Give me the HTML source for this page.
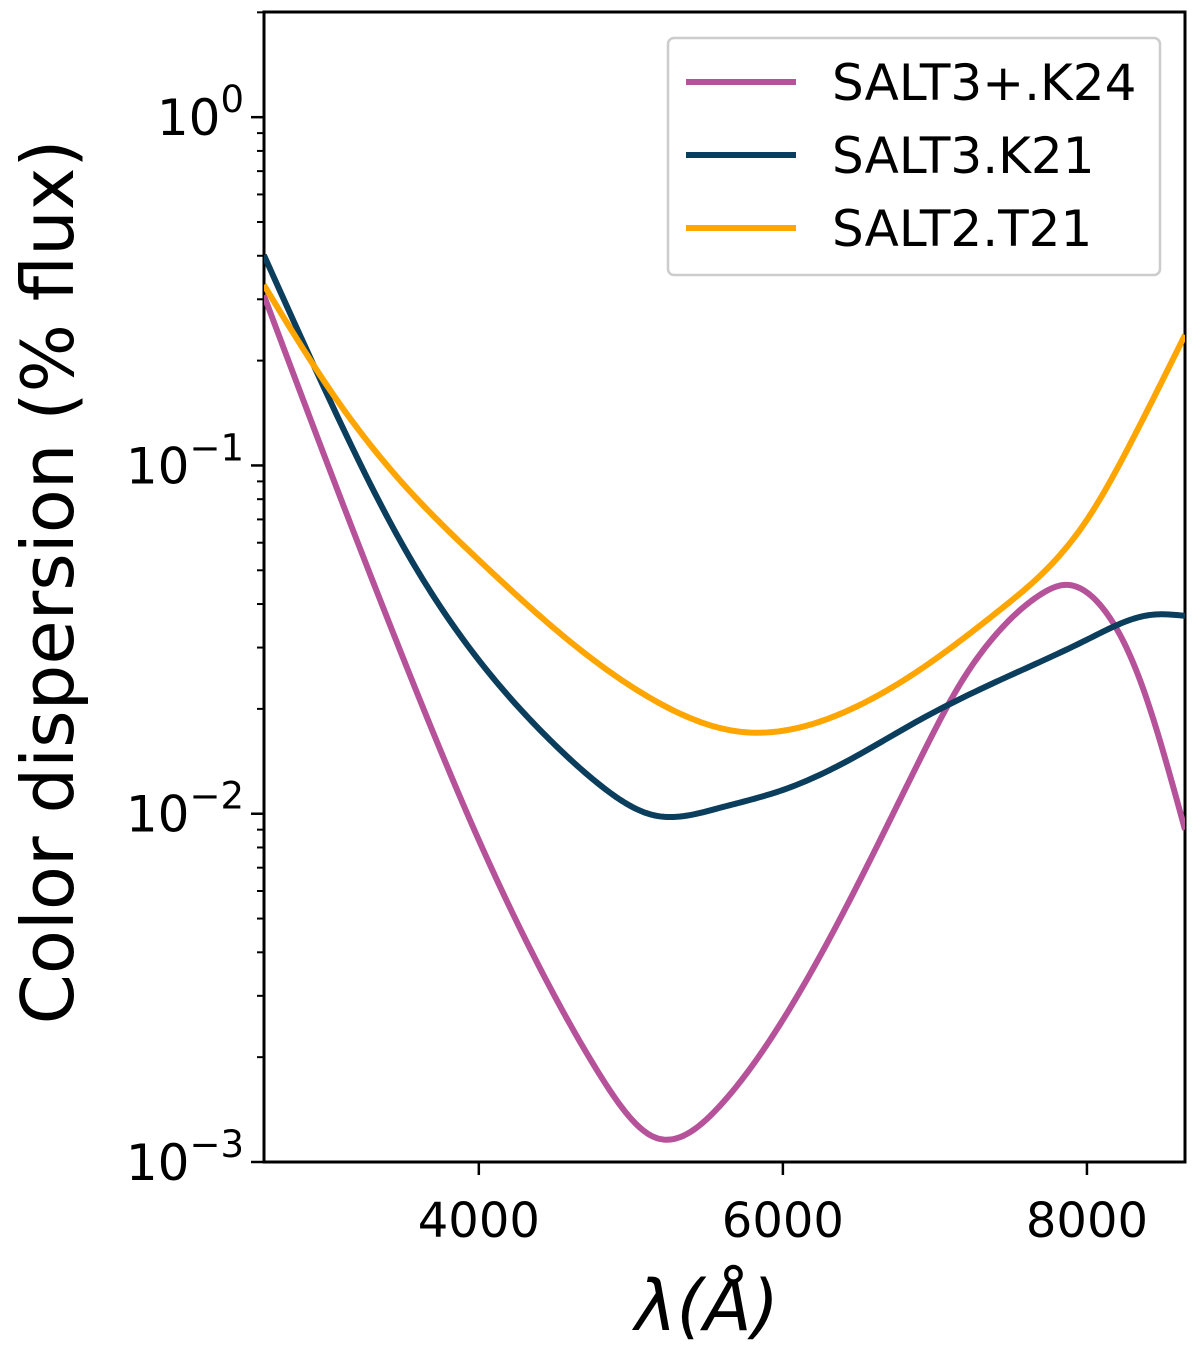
<!DOCTYPE html>
<html><head><meta charset="utf-8"><style>
body{margin:0;background:#fff}
svg text{font-family:"DejaVu Sans","Liberation Sans",sans-serif;fill:#000}
</style></head><body>
<svg width="1200" height="1353" viewBox="0 0 1200 1353">
<g id="axes"></g>
<g id="series"></g>
<g id="legend"></g>
</svg>
<script>
const lambdaPink=[2586,3020,3480,4000,4467,4796,5151,5586,6000,6441,6901,7164,7428,7691,7855,8086,8349,8645];
const valPink=[0.308,0.097,0.0296,0.0084,0.00318,0.00178,0.00118,0.00145,0.00256,0.00566,0.0143,0.0235,0.0337,0.0425,0.0454,0.0398,0.0242,0.0090];
const lambdaNavy=[2586,3020,3480,4000,4467,4796,5151,5586,6000,6441,6901,7428,8000,8414,8645];
const valNavy=[0.402,0.154,0.0611,0.0276,0.0163,0.0121,0.0099,0.0104,0.0117,0.0143,0.0186,0.0242,0.0316,0.0372,0.037];
const lambdaOrange=[2586,3020,3480,4000,4467,5151,5717,6441,6901,7428,8000,8322,8645];
const valOrange=[0.330,0.165,0.0908,0.0535,0.0349,0.0212,0.0172,0.0199,0.0259,0.0385,0.0698,0.124,0.237];
const xTicks=[4000,6000,8000];
const yTickExp=[0,-1,-2,-3];
const seriesNames=["SALT3+.K24","SALT3.K21","SALT2.T21"];

const L=264,R=1185,T=12,B=1162;
const X0=2587,X1=8645;
const LOGMIN=-3,LOGMAX=0.302;
const sx=v=>L+(v-X0)/(X1-X0)*(R-L);
const sy=v=>B-(Math.log10(v)-LOGMIN)/(LOGMAX-LOGMIN)*(B-T);
const NS="http://www.w3.org/2000/svg";
function mk(tag,attrs,parent){const e=document.createElementNS(NS,tag);for(const k in attrs)e.setAttribute(k,attrs[k]);parent.appendChild(e);return e;}
const axes=document.getElementById('axes'),ser=document.getElementById('series'),leg=document.getElementById('legend');

function path(xs,ys){
  const X=xs.map(sx),Y=ys.map(sy),n=X.length;
  const h=[],a=[],l=[1],mu=[0],z=[0],c=new Array(n).fill(0),b=[],d=[];
  for(let i=0;i<n-1;i++)h[i]=X[i+1]-X[i];
  for(let i=1;i<n-1;i++)a[i]=3/h[i]*(Y[i+1]-Y[i])-3/h[i-1]*(Y[i]-Y[i-1]);
  for(let i=1;i<n-1;i++){l[i]=2*(X[i+1]-X[i-1])-h[i-1]*mu[i-1];mu[i]=h[i]/l[i];z[i]=(a[i]-h[i-1]*z[i-1])/l[i];}
  for(let j=n-2;j>=1;j--){c[j]=z[j]-mu[j]*c[j+1];}
  c[0]=0;
  for(let j=0;j<n-1;j++){b[j]=(Y[j+1]-Y[j])/h[j]-h[j]*(c[j+1]+2*c[j])/3;d[j]=(c[j+1]-c[j])/(3*h[j]);}
  let pts=[];
  for(let j=0;j<n-1;j++){for(let k=0;k<20;k++){const t=h[j]*k/20;pts.push([X[j]+t,Y[j]+b[j]*t+c[j]*t*t+d[j]*t*t*t]);}}
  pts.push([X[n-1],Y[n-1]]);
  return 'M'+pts.map(p=>p[0].toFixed(2)+','+p[1].toFixed(2)).join(' L');
}
mk('clipPath',{id:'clip'},ser).innerHTML=`<rect x="${L}" y="${T}" width="${R-L}" height="${B-T}"/>`;
const cols=["#b5529a","#0b3d5c","#ffa500"];
const data=[[lambdaPink,valPink],[lambdaNavy,valNavy],[lambdaOrange,valOrange]];
data.forEach((s,i)=>{
  const e=mk('path',{d:path(s[0],s[1]),fill:'none',stroke:cols[i],'stroke-width':6,'stroke-linejoin':'round','clip-path':'url(#clip)'},ser);
  
  
});

const fr=mk('rect',{x:L,y:T,width:R-L,height:B-T,fill:'none',stroke:'#000','stroke-width':3},axes);



xTicks.forEach(v=>{
  mk('line',{x1:sx(v),x2:sx(v),y1:B,y2:B+13,stroke:'#000','stroke-width':2.5},axes);
  const t=mk('text',{x:sx(v),y:B+75,'font-size':48,'text-anchor':'middle'},axes);
  t.textContent=v;
  
  
});
yTickExp.forEach(e=>{
  const y=sy(Math.pow(10,e));
  mk('line',{x1:L-13,x2:L,y1:y,y2:y,stroke:'#000','stroke-width':2.5},axes);
  const t=mk('text',{x:L-20,y:y+18,'font-size':50,'text-anchor':'end'},axes);
  t.innerHTML=`10<tspan dy="-23" font-size="37">${e===0?'0':'\u2212'+(-e)}</tspan>`;
  
  
});
for(let e=-3;e<=0;e++)for(let m=2;m<=9;m++){
  const v=m*Math.pow(10,e);if(Math.log10(v)>LOGMAX)continue;
  const y=sy(v);mk('line',{x1:L-7,x2:L,y1:y,y2:y,stroke:'#000','stroke-width':2},axes);
}
const xl=mk('text',{x:707,y:1330,'font-size':70,'text-anchor':'middle','font-style':'italic'},axes);
xl.textContent='λ(Å)';


const yl=mk('text',{x:0,y:0,'font-size':72,'text-anchor':'middle',transform:'translate(73,582) rotate(-90)'},axes);
yl.textContent='Color dispersion (% flux)';



const lb=mk('rect',{x:668,y:38,width:492,height:237,rx:6,fill:'#fff',stroke:'#ccc','stroke-width':2.5},leg);


seriesNames.forEach((n,i)=>{
  const y=82+i*73;
  const g=mk('g',{},leg);
  
  
  mk('line',{x1:686,x2:796,y1:y,y2:y,stroke:cols[i],'stroke-width':6},g);
  const t=mk('text',{x:832,y:y+18,'font-size':50},g);t.textContent=n;
});
</script>
</body></html>
